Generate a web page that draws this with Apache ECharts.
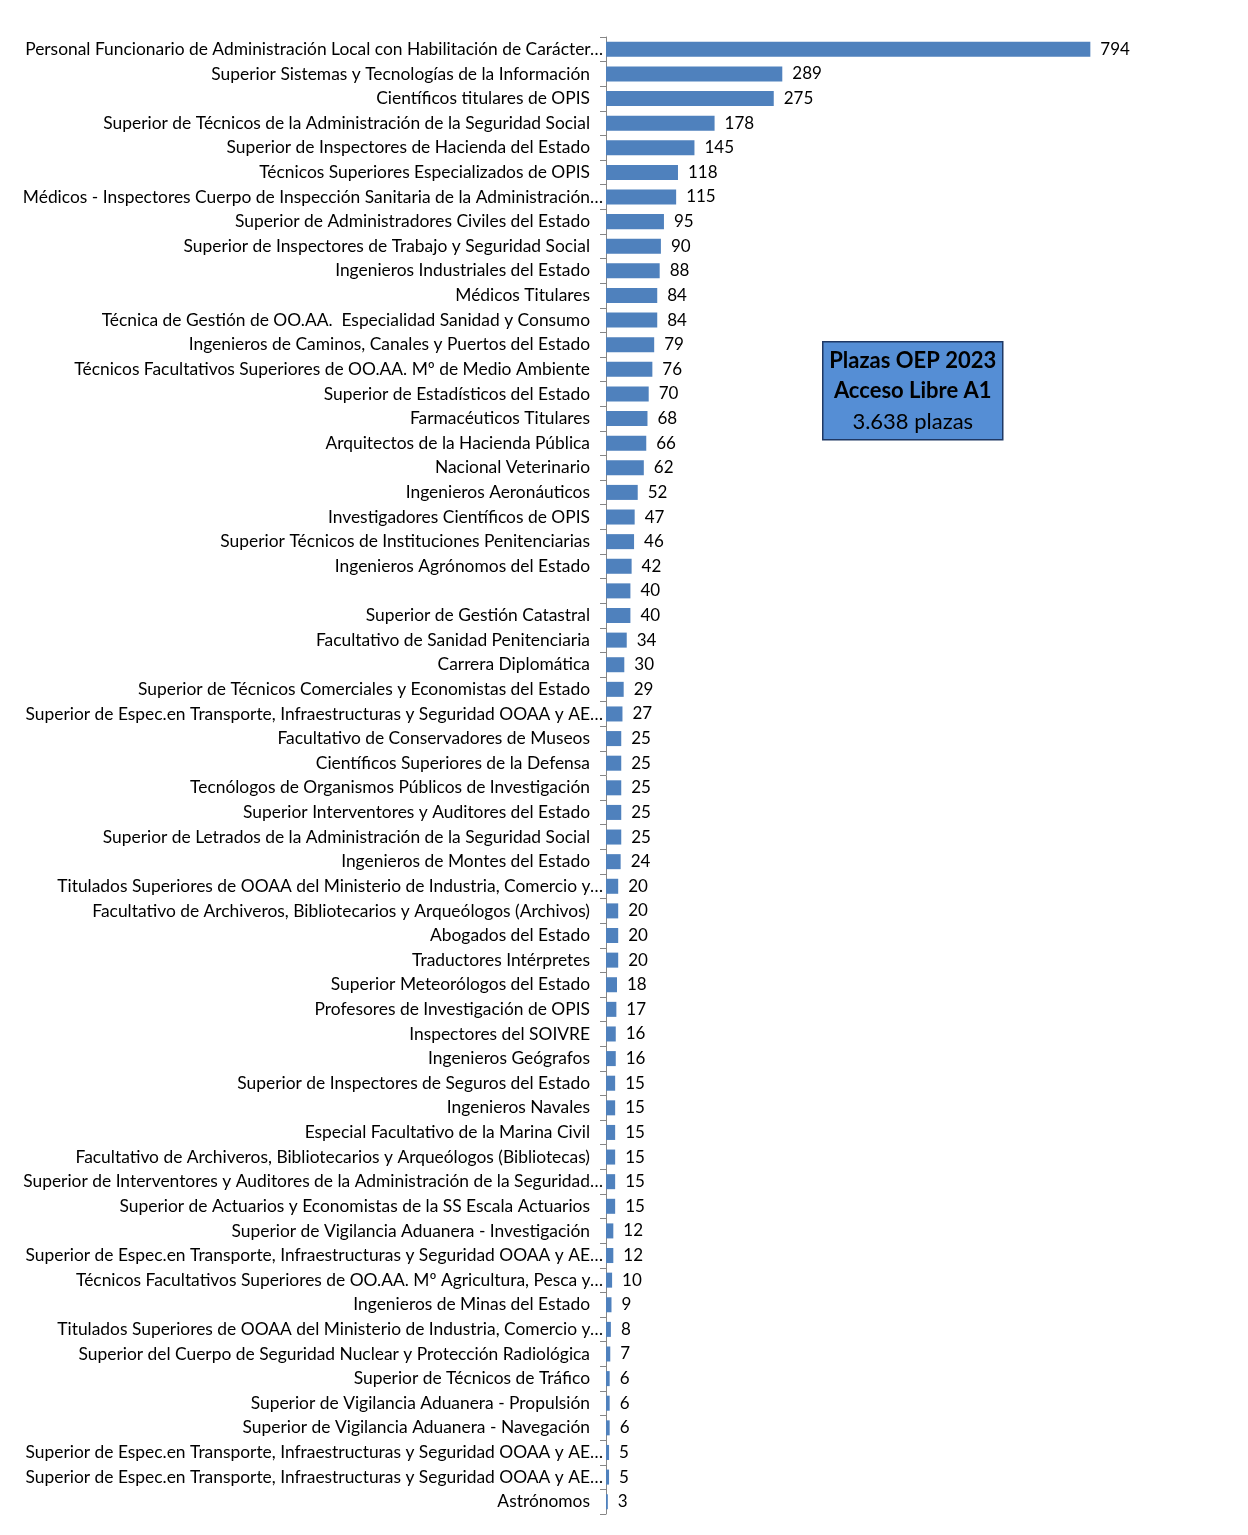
<!DOCTYPE html>
<html>
<head>
<meta charset="utf-8">
<script src="https://cdn.jsdelivr.net/npm/echarts@6/dist/echarts.min.js"></script>
<style>
html,body{margin:0;padding:0;background:#fff;}
#chart{width:1248px;height:1535px;}
</style>
</head>
<body>
<div id="chart"></div>
<script>
const categories = [
"Personal Funcionario de Administración Local con Habilitación de Carácter…",
"Superior Sistemas y Tecnologías de la Información",
"Científicos titulares de OPIS",
"Superior de Técnicos de la Administración de la Seguridad Social",
"Superior de Inspectores de Hacienda del Estado",
"Técnicos Superiores Especializados de OPIS",
"Médicos - Inspectores Cuerpo de Inspección Sanitaria de la Administración…",
"Superior de Administradores Civiles del Estado",
"Superior de Inspectores de Trabajo y Seguridad Social",
"Ingenieros Industriales del Estado",
"Médicos Titulares",
"Técnica de Gestión de OO.AA.  Especialidad Sanidad y Consumo",
"Ingenieros de Caminos, Canales y Puertos del Estado",
"Técnicos Facultativos Superiores de OO.AA. Mº de Medio Ambiente",
"Superior de Estadísticos del Estado",
"Farmacéuticos Titulares",
"Arquitectos de la Hacienda Pública",
"Nacional Veterinario",
"Ingenieros Aeronáuticos",
"Investigadores Científicos de OPIS",
"Superior Técnicos de Instituciones Penitenciarias",
"Ingenieros Agrónomos del Estado",
"",
"Superior de Gestión Catastral",
"Facultativo de Sanidad Penitenciaria",
"Carrera Diplomática",
"Superior de Técnicos Comerciales y Economistas del Estado",
"Superior de Espec.en Transporte, Infraestructuras y Seguridad OOAA y AE…",
"Facultativo de Conservadores de Museos",
"Científicos Superiores de la Defensa",
"Tecnólogos de Organismos Públicos de Investigación",
"Superior Interventores y Auditores del Estado",
"Superior de Letrados de la Administración de la Seguridad Social",
"Ingenieros de Montes del Estado",
"Titulados Superiores de OOAA del Ministerio de Industria, Comercio y…",
"Facultativo de Archiveros, Bibliotecarios y Arqueólogos (Archivos)",
"Abogados del Estado",
"Traductores Intérpretes",
"Superior Meteorólogos del Estado",
"Profesores de Investigación de OPIS",
"Inspectores del SOIVRE",
"Ingenieros Geógrafos",
"Superior de Inspectores de Seguros del Estado",
"Ingenieros Navales",
"Especial Facultativo de la Marina Civil",
"Facultativo de Archiveros, Bibliotecarios y Arqueólogos (Bibliotecas)",
"Superior de Interventores y Auditores de la Administración de la Seguridad…",
"Superior de Actuarios y Economistas de la SS Escala Actuarios",
"Superior de Vigilancia Aduanera - Investigación",
"Superior de Espec.en Transporte, Infraestructuras y Seguridad OOAA y AE…",
"Técnicos Facultativos Superiores de OO.AA. Mº Agricultura, Pesca y…",
"Ingenieros de Minas del Estado",
"Titulados Superiores de OOAA del Ministerio de Industria, Comercio y…",
"Superior del Cuerpo de Seguridad Nuclear y Protección Radiológica",
"Superior de Técnicos de Tráfico",
"Superior de Vigilancia Aduanera - Propulsión",
"Superior de Vigilancia Aduanera - Navegación",
"Superior de Espec.en Transporte, Infraestructuras y Seguridad OOAA y AE…",
"Superior de Espec.en Transporte, Infraestructuras y Seguridad OOAA y AE…",
"Astrónomos"
];
const plazas = [794,289,275,178,145,118,115,95,90,88,84,84,79,76,70,68,66,62,52,47,46,42,40,40,34,30,29,27,25,25,25,25,25,24,20,20,20,20,18,17,16,16,15,15,15,15,15,15,12,12,10,9,8,7,6,6,6,5,5,3];
const boxTitle1 = "Plazas OEP 2023";
const boxTitle2 = "Acceso Libre A1";
const boxTotal = "3.638 plazas";

const FONT = "Lato";
const LS = 17.4;
const chart = echarts.init(document.getElementById('chart'), null, {renderer:'canvas'});
chart.setOption({
  animation:false,
  grid:{left:606, right:93, top:37, bottom:21, containLabel:false},
  xAxis:{type:'value', min:0, max:900, show:false},
  yAxis:{
    type:'category', inverse:true, data:categories,
    axisLine:{show:true, lineStyle:{color:'#868686', width:1}},
    axisTick:{show:true, length:6, alignWithLabel:false, lineStyle:{color:'#868686'}},
    axisLabel:{
      interval:0, margin:3, color:'#000', fontFamily:FONT, fontSize:LS,
      formatter:function(v){ return v.endsWith('…') ? '{t|'+v+'}' : '{n|'+v+'}'; },
      rich:{
        t:{fontFamily:FONT, fontSize:LS, color:'#000', padding:[0,0,0,0]},
        n:{fontFamily:FONT, fontSize:LS, color:'#000', padding:[0,13,0,0]}
      }
    }
  },
  series:[{
    type:'bar', data:plazas, barCategoryGap:'39%',
    itemStyle:{color:'#4F81BD'},
    label:{show:true, position:'right', distance:10, color:'#000', fontFamily:FONT, fontSize:17}
  }],
  graphic:[{
    type:'group', left:822, top:341,
    children:[
      {type:'rect', shape:{x:0,y:0,width:180,height:98}, style:{fill:'#558ED5', stroke:'#1F3864', lineWidth:1.5}},
      {type:'text', x:90, y:19, style:{text:boxTitle1, fill:'#000', font:'bold 22px '+FONT, align:'center', verticalAlign:'middle'}},
      {type:'text', x:90, y:49, style:{text:boxTitle2, fill:'#000', font:'bold 22px '+FONT, align:'center', verticalAlign:'middle'}},
      {type:'text', x:90, y:80, style:{text:boxTotal, fill:'#000', font:'22px '+FONT, align:'center', verticalAlign:'middle'}}
    ]
  }]
});
</script>
</body>
</html>
